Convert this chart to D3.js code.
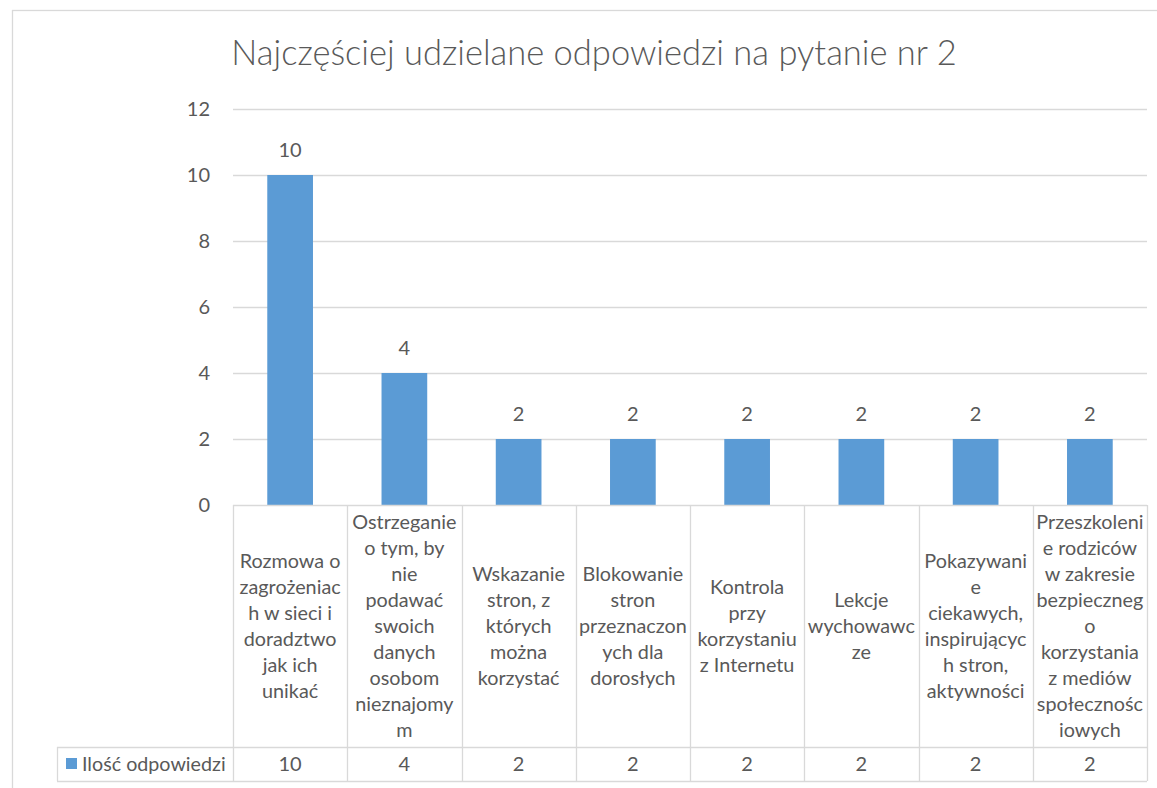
<!DOCTYPE html>
<html>
<head>
<meta charset="utf-8">
<script src="https://cdn.jsdelivr.net/npm/d3@7"></script>
<style>
  html, body { margin: 0; padding: 0; background: #fff; }
  svg { display: block; }
</style>
</head>
<body>
<svg id="chart" width="1157" height="788"></svg>
<script>
const title = "Najczęściej udzielane odpowiedzi na pytanie nr 2";
const seriesName = "Ilość odpowiedzi";
const categories = [
  ["Rozmowa o", "zagrożeniac", "h w sieci i", "doradztwo", "jak ich", "unikać"],
  ["Ostrzeganie", "o tym, by", "nie", "podawać", "swoich", "danych", "osobom", "nieznajomy", "m"],
  ["Wskazanie", "stron, z", "których", "można", "korzystać"],
  ["Blokowanie", "stron", "przeznaczon", "ych dla", "dorosłych"],
  ["Kontrola", "przy", "korzystaniu", "z Internetu"],
  ["Lekcje", "wychowawc", "ze"],
  ["Pokazywani", "e", "ciekawych,", "inspirującyc", "h stron,", "aktywności"],
  ["Przeszkoleni", "e rodziców", "w zakresie", "bezpieczneg", "o", "korzystania", "z mediów", "społecznośc", "iowych"]
];
const values = [10, 4, 2, 2, 2, 2, 2, 2];
const yTicks = [0, 2, 4, 6, 8, 10, 12];

(function () {
const svg = d3.select("#chart");
const FONT = "Lato, 'Open Sans', sans-serif";
const TXT = "#595959";
const GRID = "#D9D9D9";
const BAR = "#5B9BD5";

// outer chart border
svg.append("rect").attr("x", 12.5).attr("y", 10.5).attr("width", 1160).attr("height", 800)
  .attr("fill", "none").attr("stroke", GRID).attr("stroke-width", 1.3);

const pLeft = 233, pRight = 1147, pTop = 109, base = 505;
const headerBottom = 747, tableBottom = 781, legendLeft = 57;

const x = d3.scaleBand().domain(d3.range(categories.length)).range([pLeft, pRight]).padding(0);
const y = d3.scaleLinear().domain([0, 12]).range([base, pTop]);

// title
svg.append("text").attr("x", 594).attr("y", 65).attr("text-anchor", "middle")
  .attr("font-family", FONT).attr("font-weight", 300).attr("font-size", 34.5).attr("fill", TXT).text(title);

// gridlines
svg.append("g").selectAll("line").data(yTicks.filter(d => d > 0)).join("line")
  .attr("x1", pLeft).attr("x2", pRight)
  .attr("y1", d => Math.round(y(d)) + 0.5).attr("y2", d => Math.round(y(d)) + 0.5)
  .attr("stroke", GRID).attr("stroke-width", 1.3);

// y axis labels
const yAxis = d3.axisLeft(y).tickValues(yTicks).tickSize(0).tickPadding(0);
const gy = svg.append("g").attr("transform", `translate(210,0)`).call(yAxis);
gy.select(".domain").remove();
gy.selectAll("text").attr("font-family", FONT).attr("font-size", 20).attr("fill", TXT);

// bars
const bw = x.bandwidth() * 0.4;
svg.append("g").selectAll("rect").data(values).join("rect")
  .attr("x", (d, i) => x(i) + (x.bandwidth() - bw) / 2)
  .attr("y", d => y(d))
  .attr("width", bw)
  .attr("height", d => y(0) - y(d))
  .attr("fill", BAR);

// data labels
svg.append("g").selectAll("text").data(values).join("text")
  .attr("x", (d, i) => x(i) + x.bandwidth() / 2)
  .attr("y", d => y(d) - 18)
  .attr("text-anchor", "middle")
  .attr("font-family", FONT).attr("font-size", 20).attr("fill", TXT)
  .text(d => d);

// data table
const tg = svg.append("g").attr("stroke", GRID).attr("stroke-width", 1.3).attr("fill", "none");
tg.append("line").attr("x1", pLeft).attr("x2", pRight).attr("y1", base + 0.5).attr("y2", base + 0.5);
tg.append("line").attr("x1", legendLeft).attr("x2", pRight).attr("y1", headerBottom + 0.5).attr("y2", headerBottom + 0.5);
tg.append("line").attr("x1", legendLeft).attr("x2", pRight).attr("y1", tableBottom + 0.5).attr("y2", tableBottom + 0.5);
tg.append("line").attr("x1", legendLeft + 0.5).attr("x2", legendLeft + 0.5).attr("y1", headerBottom).attr("y2", tableBottom);
const bounds = d3.range(categories.length + 1).map(i => i < categories.length ? x(i) : pRight);
tg.selectAll("line.v").data(bounds).join("line").attr("class", "v")
  .attr("x1", d => Math.round(d) + 0.5).attr("x2", d => Math.round(d) + 0.5)
  .attr("y1", base).attr("y2", tableBottom);

// category labels (wrapped)
const lineH = 26;
const headerMid = (base + headerBottom) / 2;
categories.forEach((lines, i) => {
  const cx = x(i) + x.bandwidth() / 2;
  const startY = headerMid - (lines.length - 1) * lineH / 2;
  const t = svg.append("text").attr("text-anchor", "middle")
    .attr("font-family", FONT).attr("font-size", 19.8).attr("fill", TXT);
  lines.forEach((ln, j) => {
    t.append("tspan").attr("x", cx).attr("y", startY + j * lineH).attr("dy", "0.35em").text(ln);
  });
});

// value row
const rowMid = (headerBottom + tableBottom) / 2;
svg.append("g").selectAll("text").data(values).join("text")
  .attr("x", (d, i) => x(i) + x.bandwidth() / 2)
  .attr("y", rowMid).attr("dy", "0.35em")
  .attr("text-anchor", "middle")
  .attr("font-family", FONT).attr("font-size", 20).attr("fill", TXT)
  .text(d => d);

// legend key in table
svg.append("rect").attr("x", 66).attr("y", 758).attr("width", 11).attr("height", 11).attr("fill", BAR);
svg.append("text").attr("x", 82).attr("y", rowMid).attr("dy", "0.35em")
  .attr("font-family", FONT).attr("font-size", 19.7).attr("fill", TXT).text(seriesName);
})();
</script>
</body>
</html>
